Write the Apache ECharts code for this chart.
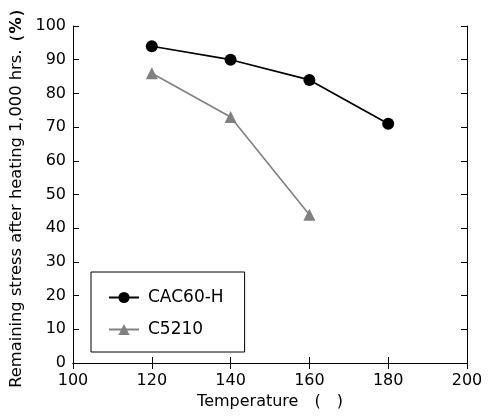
<!DOCTYPE html>
<html><head><meta charset="utf-8">
<script src="https://cdn.jsdelivr.net/npm/echarts@6/dist/echarts.min.js"></script>
<style>html,body{margin:0;padding:0;background:#fff}#c{width:488px;height:417px}</style>
</head><body><div id="c"></div>
<script>
const temps = [120, 140, 160, 180];
const cac60h = [94, 90, 84, 71];
const c5210 = [86, 73, 44];
const seriesNames = ['CAC60-H', 'C5210'];
const xTitle = 'Temperature\u3000(\u3000)';
const yTitleMain = 'Remaining stress after heating 1,000 hrs.';
const yTitleUnit = '\uff08%\uff09';

const chart = echarts.init(document.getElementById('c'));
const font = 'DejaVu Sans, sans-serif';
const axisCommon = {
  type: 'value',
  axisLine: {show: true, lineStyle: {color: '#000', width: 1}},
  axisTick: {show: true, inside: true, length: 6, lineStyle: {color: '#000'}},
  splitLine: {show: false}
};
chart.setOption({
  animation: false,
  grid: {left: 73, top: 26, right: 21, bottom: 54, containLabel: false, outerBoundsMode: 'none'},
  legend: {
    orient: 'vertical', left: 91, top: 272,
    padding: [17, 21, 14, 17],
    borderColor: '#000', borderWidth: 1, backgroundColor: '#fff',
    itemWidth: 30, itemHeight: 14, itemGap: 15,
    textStyle: {fontFamily: font, fontSize: 17, color: '#000', padding: [0, 0, 0, 4]},
    data: seriesNames
  },
  xAxis: [
    Object.assign({}, axisCommon, {min: 100, max: 200, interval: 20, position: 'bottom',
      name: xTitle, nameLocation: 'middle', nameGap: 29,
      nameTextStyle: {fontFamily: font, fontSize: 16, color: '#000'},
      axisLabel: {fontFamily: font, fontSize: 16, color: '#000', margin: 10}}),
    Object.assign({}, axisCommon, {min: 100, max: 200, interval: 20, position: 'top',
      axisLabel: {show: false}})
  ],
  yAxis: [
    Object.assign({}, axisCommon, {min: 0, max: 100, interval: 10, position: 'left',
      name: '{a|' + yTitleMain + '}{b|' + yTitleUnit + '}', nameLocation: 'middle', nameGap: 42,
      nameTextStyle: {fontFamily: font, fontSize: 16.3, color: '#000',
        rich: {a: {fontFamily: font, fontSize: 16.3, color: '#000'},
               b: {fontFamily: font, fontSize: 16.3, color: '#000', fontWeight: 'bold'}}},
      axisLabel: {fontFamily: font, fontSize: 16, color: '#000', margin: 7}}),
    Object.assign({}, axisCommon, {min: 0, max: 100, interval: 10, position: 'right',
      axisLabel: {show: false}})
  ],
  series: [
    {name: seriesNames[0], type: 'line', data: temps.map((t, i) => [t, cac60h[i]]),
     symbol: 'circle', symbolSize: 12,
     lineStyle: {color: '#000', width: 1.7}, itemStyle: {color: '#000'}},
    {name: seriesNames[1], type: 'line', data: c5210.map((v, i) => [temps[i], v]),
     symbol: 'triangle', symbolSize: 12,
     lineStyle: {color: '#808080', width: 1.6}, itemStyle: {color: '#808080'}}
  ]
});
</script></body></html>
